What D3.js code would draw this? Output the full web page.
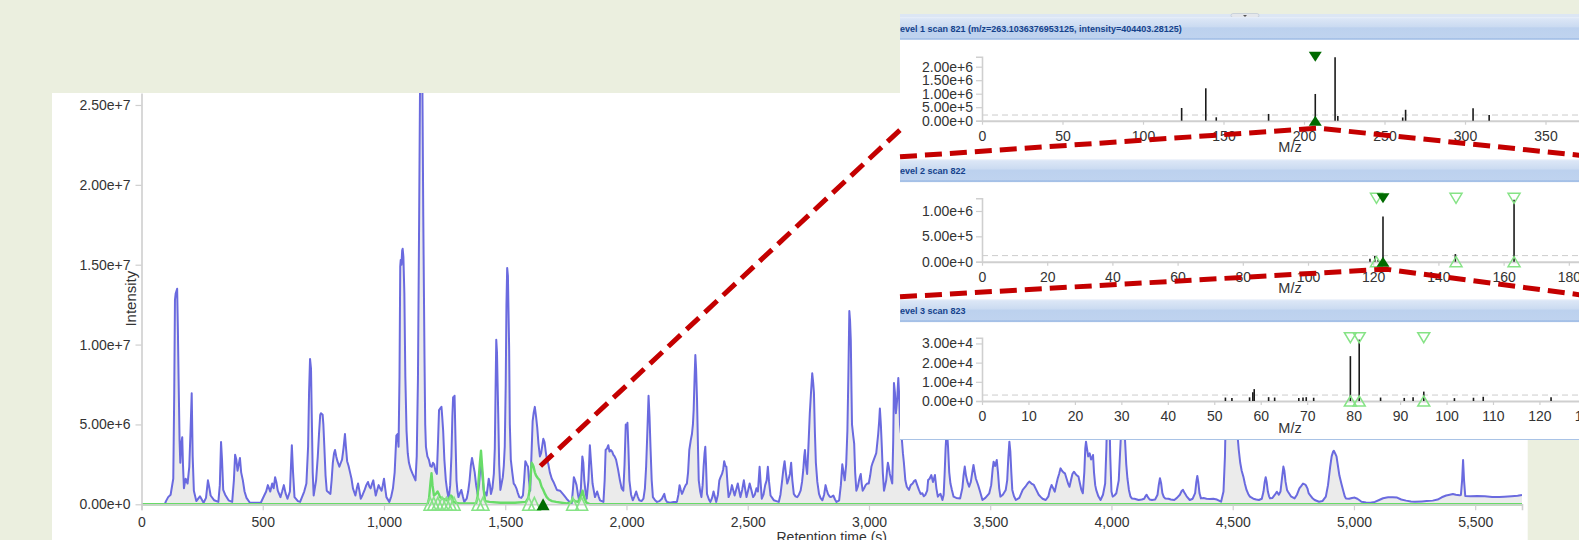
<!DOCTYPE html>
<html>
<head>
<meta charset="utf-8">
<script src="https://cdn.jsdelivr.net/npm/d3@7"></script>
<style>
  html, body { margin: 0; padding: 0; background: #ebefdf; overflow: hidden; }
  svg { display: block; font-family: "Liberation Sans", Arial, sans-serif; }
</style>
</head>
<body>
<svg id="chart" width="1579" height="540"></svg>
<script>
// ---------- Total ion chromatogram (retention time in s, intensity) ----------
const ticRT = [97,101,110,120,131,135,138,141,147,150,153,157,160,164,168,171,175,178,182,190,197,202,207,211,216,226,241,256,266,274,279,285,300,317,323,328,332,337,345,359,374,381,386,391,396,401,406,411,418,425,433,447,492,506,514,521,531,539,545,551,556,562,573,580,587,594,602,612,620,625,631,645,654,671,680,687,691,695,699,702,706,710,720,727,732,737,740,747,750,754,759,764,779,784,789,794,798,803,808,816,822,827,833,839,843,848,854,860,866,872,882,888,893,898,904,912,919,927,934,940,945,951,956,961,966,972,978,984,990,995,1000,1005,1010,1022,1030,1037,1044,1051,1056,1060,1064,1067,1069,1072,1075,1077,1080,1084,1088,1093,1098,1103,1110,1118,1124,1130,1135,1140,1145,1149,1153,1158,1162,1167,1170,1173,1179,1185,1191,1197,1202,1207,1212,1218,1223,1227,1232,1237,1240,1244,1249,1255,1261,1267,1273,1278,1282,1285,1288,1291,1295,1299,1303,1307,1313,1319,1325,1331,1341,1347,1353,1358,1363,1368,1374,1380,1386,1392,1396,1401,1406,1411,1417,1423,1428,1432,1437,1441,1447,1453,1457,1460,1463,1466,1471,1475,1480,1485,1490,1494,1498,1502,1505,1508,1511,1516,1519,1523,1529,1535,1540,1546,1552,1558,1566,1573,1578,1583,1589,1594,1598,1603,1608,1613,1617,1622,1627,1632,1637,1643,1648,1652,1657,1662,1667,1672,1678,1684,1692,1699,1713,1726,1740,1753,1765,1774,1779,1783,1788,1794,1800,1805,1812,1818,1822,1826,1831,1836,1843,1849,1854,1860,1870,1879,1885,1891,1905,1910,1914,1920,1925,1930,1935,1941,1946,1951,1957,1965,1973,1980,1987,1992,1997,2001,2004,2008,2012,2019,2026,2033,2040,2046,2053,2062,2070,2076,2081,2086,2091,2095,2099,2104,2109,2118,2126,2136,2146,2151,2156,2161,2167,2180,2194,2208,2214,2219,2224,2229,2233,2238,2244,2249,2254,2259,2265,2270,2274,2277,2281,2284,2287,2291,2295,2298,2304,2309,2314,2318,2322,2325,2328,2332,2340,2346,2353,2359,2364,2370,2377,2383,2388,2394,2399,2403,2408,2412,2417,2421,2428,2435,2440,2446,2452,2459,2464,2470,2477,2484,2489,2495,2502,2508,2515,2522,2529,2536,2542,2549,2553,2558,2565,2572,2578,2583,2588,2594,2601,2608,2618,2628,2635,2642,2647,2652,2657,2663,2669,2674,2679,2684,2690,2697,2704,2711,2718,2724,2729,2733,2736,2740,2745,2750,2756,2761,2766,2770,2773,2777,2781,2787,2794,2800,2808,2815,2821,2826,2831,2837,2842,2848,2853,2860,2866,2872,2877,2884,2890,2895,2900,2906,2911,2915,2919,2922,2925,2928,2930,2935,2939,2943,2948,2954,2959,2962,2966,2970,2974,2980,2986,2993,2999,3005,3010,3015,3020,3025,3030,3034,3038,3042,3045,3049,3053,3057,3062,3067,3071,3075,3078,3082,3086,3091,3096,3100,3103,3107,3111,3116,3121,3124,3128,3131,3135,3140,3144,3150,3156,3165,3172,3180,3186,3192,3199,3206,3213,3220,3226,3233,3240,3244,3250,3257,3264,3272,3278,3284,3290,3295,3303,3308,3312,3316,3321,3326,3331,3336,3342,3349,3360,3376,3385,3390,3395,3400,3406,3413,3420,3426,3431,3436,3441,3450,3458,3468,3480,3496,3504,3510,3514,3520,3527,3532,3537,3542,3552,3564,3570,3575,3579,3583,3587,3591,3598,3606,3620,3634,3645,3654,3661,3670,3680,3690,3700,3707,3716,3729,3740,3746,3753,3760,3766,3772,3778,3784,3790,3796,3802,3808,3815,3821,3827,3833,3839,3845,3852,3858,3864,3870,3876,3882,3888,3892,3895,3899,3904,3910,3916,3920,3924,3928,3933,3937,3946,3955,3965,3974,3979,3983,3987,3991,3995,4000,4005,4012,4020,4030,4038,4043,4047,4051,4056,4061,4066,4072,4078,4084,4095,4112,4125,4135,4140,4145,4150,4158,4167,4180,4190,4195,4200,4205,4210,4216,4222,4235,4245,4259,4270,4282,4290,4295,4300,4310,4323,4335,4345,4350,4354,4358,4363,4369,4380,4392,4406,4420,4435,4452,4462,4468,4472,4478,4484,4490,4496,4502,4508,4514,4520,4525,4531,4537,4544,4550,4557,4564,4571,4585,4597,4608,4620,4627,4632,4636,4640,4645,4650,4654,4664,4674,4682,4690,4697,4703,4709,4713,4718,4724,4728,4740,4755,4765,4775,4783,4790,4797,4801,4808,4813,4819,4828,4838,4856,4870,4884,4893,4902,4908,4914,4917,4922,4928,4933,4940,4948,4955,4962,4967,4980,4992,5003,5014,5023,5031,5050,5068,5086,5104,5120,5135,5141,5160,5178,5195,5215,5235,5251,5280,5300,5325,5345,5362,5380,5395,5408,5420,5436,5441,5446,5450,5454,5459,5480,5509,5540,5570,5600,5620,5650,5675,5693];
const ticIntensity = [0.05,0.2,0.45,0.6,1.6,7.0,12.8,13.2,13.5,11.0,7.8,4.0,2.6,3.8,4.2,2.5,1.0,1.3,1.6,1.3,2.35,4.5,6.95,3.0,0.85,0.2,0.5,0.1,0.4,1.5,1.1,0.55,0.25,0.15,1.2,3.9,2.8,0.9,0.6,0.25,0.15,1.5,3.1,2.8,2.1,2.5,2.9,2.0,1.5,0.8,0.4,0.1,0.1,0.55,0.8,1.2,0.8,1.3,1.0,1.7,1.4,0.85,0.45,0.8,1.2,0.7,0.35,0.8,3.7,2.0,0.45,0.2,0.15,0.8,1.3,3.6,7.0,9.1,8.5,5.7,2.0,0.55,1.5,3.0,4.4,5.6,5.7,5.6,5.0,3.6,1.8,0.85,0.65,1.5,2.6,3.2,3.4,3.0,2.7,2.35,2.6,2.8,3.5,4.4,3.6,2.7,2.4,2.0,1.6,1.0,0.55,1.0,1.3,0.9,0.35,0.6,0.85,1.2,1.4,1.1,1.0,1.3,1.5,1.0,0.55,0.9,1.2,1.0,0.85,1.2,1.6,1.0,0.45,0.15,0.5,1.0,2.0,4.3,4.4,3.6,8.0,14.9,15.3,15.0,15.9,16.0,15.5,13.2,8.0,4.6,3.2,2.6,2.2,1.9,1.7,1.5,3.0,7.8,18.0,27.0,28.0,27.0,18.0,9.2,5.0,3.6,3.0,2.8,2.4,2.35,2.6,2.5,2.1,1.9,4.0,5.9,6.0,6.1,5.5,4.6,2.8,1.5,0.8,0.35,1.2,3.0,5.5,6.7,6.7,6.8,4.0,1.5,0.8,0.45,0.7,0.9,0.5,0.15,0.35,0.8,1.5,2.4,2.9,2.5,2.0,1.2,0.65,1.2,2.0,2.6,1.8,0.9,0.7,0.55,1.1,1.6,1.2,0.65,1.0,1.9,3.5,7.0,10.3,9.5,5.7,2.5,0.9,1.3,1.7,2.4,3.6,7.5,12.5,14.8,14.3,9.9,5.0,2.8,2.0,1.3,1.2,1.0,0.7,0.45,0.4,0.55,1.5,2.7,2.5,2.35,1.5,0.85,3.0,5.2,5.7,6.1,5.5,4.8,3.8,3.0,3.2,3.6,4.1,3.9,3.3,2.8,2.5,2.0,1.6,1.4,0.9,0.85,0.6,0.35,0.15,0.05,0.9,1.7,1.5,1.2,0.6,0.25,1.0,3.0,2.6,1.5,0.8,0.35,1.5,3.7,2.6,1.3,0.45,0.8,0.5,0.25,0.15,1.5,3.4,3.5,3.7,3.3,3.4,3.3,3.1,3.0,2.8,2.2,1.5,1.0,0.85,2.5,5.0,4.8,5.1,3.5,1.5,0.6,0.25,0.5,0.8,0.5,0.25,0.2,0.35,1.0,2.35,4.5,6.8,5.5,3.6,1.5,0.45,0.25,0.15,0.2,0.35,0.5,0.65,0.3,0.15,0.1,0.15,0.15,0.6,1.2,0.9,0.65,0.8,1.0,1.2,1.3,2.0,3.4,4.0,4.4,5.0,5.9,8.0,9.35,8.5,6.5,3.5,1.5,0.8,0.45,1.2,2.35,3.2,3.6,2.5,0.65,0.3,0.15,0.4,0.8,0.5,0.15,0.6,1.5,1.7,1.9,2.2,2.7,2.4,2.35,1.2,0.45,0.7,1.2,0.9,0.55,0.9,1.3,0.9,0.45,0.9,1.5,1.0,0.45,0.9,1.3,0.9,0.45,0.6,1.0,0.8,2.35,1.4,0.35,0.6,1.2,1.5,2.35,1.4,0.55,0.4,0.25,0.2,0.15,0.6,1.5,2.2,2.7,2.0,1.3,1.6,1.9,2.6,1.5,0.65,0.5,0.45,0.6,0.85,1.4,2.15,3.0,3.4,2.5,1.9,3.5,5.7,7.0,8.2,7.6,7.0,4.5,2.6,1.4,0.65,0.4,0.25,0.6,1.2,0.9,0.65,0.5,0.45,0.5,0.55,0.3,0.15,0.2,0.25,1.2,2.5,2.0,1.5,2.5,4.6,8.0,12.1,11.5,10.3,7.0,5.0,4.3,3.8,2.0,0.85,1.1,1.5,1.7,1.9,1.3,0.85,1.0,1.2,1.3,1.3,1.8,2.35,2.6,2.8,3.0,3.2,3.8,4.4,5.2,6.0,5.0,3.6,2.0,0.85,1.2,1.5,2.2,2.6,2.3,1.9,1.6,1.3,4.0,7.6,7.0,5.7,6.5,7.9,7.0,5.0,4.5,4.2,3.2,2.6,1.5,1.1,0.9,1.2,1.3,1.45,1.52,1.2,0.9,0.65,0.69,0.5,0.6,0.85,1.52,1.6,1.83,1.4,1.83,1.0,0.48,0.6,0.65,0.27,0.6,1.9,3.5,4.8,3.6,2.0,1.3,0.9,0.48,0.4,0.37,1.0,1.8,2.36,1.8,1.4,1.1,1.4,2.0,2.46,2.0,1.6,1.21,0.8,0.27,0.4,0.69,1.2,2.2,2.67,2.4,2.77,2.0,1.0,0.48,0.6,0.9,1.5,3.0,3.92,3.3,2.0,0.9,0.5,0.27,0.4,0.9,1.1,1.3,1.42,1.3,1.21,0.9,0.6,0.48,0.35,0.27,0.5,0.9,1.21,1.0,0.79,1.2,1.6,1.9,2.25,2.1,2.0,1.94,1.6,1.3,1.1,1.5,1.9,2.04,1.9,1.8,1.73,1.3,0.9,0.69,2.0,3.5,3.92,3.5,3.0,3.19,2.8,2.9,3.09,2.0,1.2,0.9,0.5,0.27,0.6,1.3,3.5,6.0,7.5,6.0,3.0,0.8,0.48,0.55,0.69,1.5,4.0,7.0,8.8,7.0,4.0,2.5,1.6,0.9,0.5,0.37,0.35,0.27,0.3,0.35,0.5,0.6,0.45,0.3,0.27,0.3,0.6,1.2,1.63,1.3,0.7,0.45,0.37,0.35,0.3,0.27,0.4,0.6,0.85,0.9,0.75,0.5,0.27,0.35,0.7,1.4,1.77,1.4,0.7,0.37,0.4,0.35,0.33,0.35,0.3,0.16,0.8,3.0,6.0,9.0,11.0,11.5,10.8,9.0,7.2,5.5,4.3,3.4,2.6,2.1,1.73,1.3,0.9,0.65,0.48,0.35,0.3,0.27,0.35,0.8,1.4,1.69,1.4,0.8,0.5,0.37,0.4,0.6,0.79,0.6,0.8,1.6,2.36,2.1,1.4,0.9,0.79,0.5,0.37,0.6,1.0,1.15,1.3,1.25,1.21,1.0,0.7,0.58,0.4,0.27,0.16,0.2,0.48,1.2,2.36,3.0,3.3,3.35,3.2,3.0,2.5,1.8,1.3,0.9,0.5,0.37,0.35,0.4,0.42,0.35,0.25,0.16,0.12,0.1,0.15,0.27,0.38,0.43,0.44,0.44,0.42,0.3,0.23,0.18,0.16,0.18,0.2,0.23,0.3,0.44,0.55,0.6,0.64,0.6,0.56,0.58,1.5,2.77,1.5,0.52,0.5,0.52,0.5,0.46,0.45,0.47,0.5,0.53,0.58]
  .map(v => v * 1e6);

// ---------- Extracted ion chromatogram of the selected precursor ----------
const xicRT = [0,1180,1186,1192,1196,1200,1206,1214,1221,1226,1231,1237,1243,1250,1258,1264,1270,1276,1280,1286,1294,1310,1380,1386,1390,1395,1400,1404,1408,1412,1417,1435,1480,1540,1585,1595,1600,1605,1609,1613,1617,1622,1627,1634,1642,1650,1657,1664,1671,1680,1693,1710,1753,1770,1780,1788,1800,1812,1819,1826,1835,1850,5693];
const xicIntensity = [0,0,0.4,1.4,1.94,1.2,0.55,0.65,0.8,0.65,0.45,0.4,0.35,0.3,0.25,0.3,0.4,0.55,0.5,0.15,0.1,0.05,0.05,0.5,1.5,2.5,3.35,2.5,1.7,0.8,0.2,0.15,0.1,0.1,0.15,0.4,0.85,1.8,2.6,2.5,2.35,2.0,1.8,1.65,1.5,1.1,0.9,0.65,0.45,0.3,0.2,0.15,0.05,0.1,0.3,0.2,0.15,0.5,0.85,0.4,0.1,0,0]
  .map(v => v * 1e6);

// MS2 scans triggered on the precursor, and the scan shown in the spectra
const ms2ScanRT = [1190, 1205, 1222, 1240, 1257, 1273, 1289, 1388, 1408, 1597, 1620, 1778, 1815];
const selectedScanRT = 1656;
const calloutRT = 1645, calloutIntensity = 2.4e6;

const rtTicks = [0, 500, 1000, 1500, 2000, 2500, 3000, 3500, 4000, 4500, 5000, 5500];
const intensityTicks = [0, 5e6, 1e7, 1.5e7, 2e7, 2.5e7];

// ---------- Spectra (MS1 -> MS2 -> MS3) ----------
const spec1Mz  = [124, 139, 145.5, 178, 207, 219.3, 221, 261.3, 263.1, 305, 315];
const spec1Int = [4.7e5, 1.2e6, 1.26e5, 2.5e5, 9.9e5, 2.35e6, 1.7e5, 1.2e5, 4.04e5, 4.6e5, 2.1e5];
const spec1Selected = [207];
const spec1Fragmented = [];
const spec1Noise = 2.1e5;
const spec1Ticks = [0, 5e5, 1e6, 1.5e6, 2e6];
const spec1MzTicks = [0, 50, 100, 150, 200, 250, 300, 350, 400];

const spec2Mz  = [119, 120.5, 121.5, 123, 145.2, 163.2];
const spec2Int = [6e4, 1.1e5, 4e4, 8.9e5, 1.5e5, 1.22e6];
const spec2Selected = [123];
const spec2Fragmented = [121, 145.4, 163.2];
const spec2Noise = 1.2e5;
const spec2Ticks = [0, 5e5, 1e6];
const spec2MzTicks = [0, 20, 40, 60, 80, 100, 120, 140, 160, 180, 200];

const spec3Mz  = [52.4, 53.8, 57.6, 58.3, 58.6, 61.7, 63.0, 68.2, 69.1, 69.8, 71.4, 79.3, 81.2, 85.8, 90.9, 92.8, 95.1, 101.7, 105.8, 107.9, 122.5];
const spec3Int = [1.8e3, 1.6e3, 1.9e3, 4.5e3, 6.2e3, 2.0e3, 1.8e3, 1.6e3, 1.8e3, 2.0e3, 1.7e3, 2.34e4, 3.2e4, 1.8e3, 1.6e3, 1.9e3, 4.9e3, 1.5e3, 1.7e3, 2.2e3, 1.9e3];
const spec3Selected = [];
const spec3Fragmented = [79.3, 81.2, 95.1];
const spec3Noise = 3.1e3;
const spec3Ticks = [0, 1e4, 2e4, 3e4];
const spec3MzTicks = [0, 10, 20, 30, 40, 50, 60, 70, 80, 90, 100, 110, 120, 130, 140];

const spectraTitles = [
  "Level 1 scan 821 (m/z=263.1036376953125, intensity=404403.28125)",
  "Level 2 scan 822",
  "Level 3 scan 823"
];

// ---------- drawing ----------
const svg = d3.select("#chart");
const defs = svg.append("defs");
const sci = d3.format(".2e");

const BLUE = "#6a6adf", GREEN = "#68dc68", LIGHTGREEN = "#86e386", DARKGREEN = "#006b00";
const AXIS = "#cfcfcf", TEXT = "#333";

// white card holding the chromatogram
svg.append("rect").attr("x", 52).attr("y", 93).attr("width", 1475.7).attr("height", 447).attr("fill", "#fff");

const x = d3.scaleLinear().domain([0, 5693]).range([141.5, 1522]);
const y = d3.scaleLinear().domain([0, 25.75e6]).range([504.3, 93]);

defs.append("clipPath").attr("id", "plotClip")
  .append("rect").attr("x", x.range()[0]).attr("y", y.range()[1])
  .attr("width", x.range()[1] - x.range()[0]).attr("height", y.range()[0] - y.range()[1] + 2);

function styleAxis(g, fontSize) {
  g.select(".domain").attr("stroke", AXIS).attr("stroke-width", 1.6);
  g.selectAll(".tick line").attr("stroke", AXIS).attr("stroke-width", 1.2);
  g.selectAll(".tick text").attr("fill", TEXT).style("font-size", fontSize + "px")
    .style("font-family", '"Liberation Sans", Arial, sans-serif');
}

const plot = svg.append("g").attr("clip-path", "url(#plotClip)");

const ticData = ticRT.map((t, i) => [t, ticIntensity[i]]);
const xicData = xicRT.map((t, i) => [t, xicIntensity[i]]);

plot.append("path").datum(ticData)
  .attr("fill", "#ebebeb").attr("stroke", "none")
  .attr("d", d3.area().x(d => x(d[0])).y0(y(0)).y1(d => y(d[1])));
plot.append("path").datum(ticData)
  .attr("fill", "none").attr("stroke", BLUE).attr("stroke-width", 2).attr("stroke-linejoin", "round")
  .attr("d", d3.line().x(d => x(d[0])).y(d => y(d[1])));
plot.append("path").datum(xicData)
  .attr("fill", "none").attr("stroke", GREEN).attr("stroke-width", 2.4).attr("stroke-linejoin", "round")
  .attr("d", d3.line().x(d => x(d[0])).y(d => y(d[1])));

// axes
const gy = svg.append("g").attr("transform", `translate(${x.range()[0]},0)`)
  .call(d3.axisLeft(y).tickValues(intensityTicks).tickFormat(sci).tickSize(6).tickSizeOuter(0).tickPadding(5));
styleAxis(gy, 14);
const gx = svg.append("g").attr("transform", `translate(0,${y(0)})`)
  .call(d3.axisBottom(x).tickValues(rtTicks).tickFormat(d3.format(",")).tickSize(6).tickSizeOuter(6).tickPadding(7));
styleAxis(gx, 14);

svg.append("text").attr("transform", `translate(135.5,${(y.range()[0] + y.range()[1]) / 2}) rotate(-90)`)
  .attr("text-anchor", "middle").attr("fill", TEXT).style("font-size", "15px").text("Intensity");
svg.append("text").attr("x", (x.range()[0] + x.range()[1]) / 2).attr("y", 542)
  .attr("text-anchor", "middle").attr("fill", TEXT).style("font-size", "14px").text("Retention time (s)");

// scan markers
function tri(w, h, up) {
  return up ? `M0,${-h / 2}L${w / 2},${h / 2}L${-w / 2},${h / 2}Z`
            : `M0,${h / 2}L${w / 2},${-h / 2}L${-w / 2},${-h / 2}Z`;
}
svg.append("g").selectAll("path").data(ms2ScanRT).join("path")
  .attr("transform", d => `translate(${x(d)},${y(0) - 0.5})`)
  .attr("d", tri(12, 13, true)).attr("fill", "none").attr("stroke", LIGHTGREEN).attr("stroke-width", 1.6);
svg.append("path").attr("transform", `translate(${x(selectedScanRT)},${y(0)})`)
  .attr("d", tri(13, 12, true)).attr("fill", DARKGREEN);

// ---------- spectra stack ----------
const INSET_X = 900, INSET_R = 1579;
svg.append("rect").attr("x", INSET_X).attr("y", 14).attr("width", INSET_R - INSET_X).attr("height", 426).attr("fill", "#fff");
svg.append("rect").attr("x", INSET_X).attr("y", 14).attr("width", INSET_R - INSET_X).attr("height", 3.2).attr("fill", "#dce6f4");
svg.append("line").attr("x1", INSET_X).attr("x2", INSET_R).attr("y1", 439.5).attr("y2", 439.5)
  .attr("stroke", "#a9c3e6").attr("stroke-width", 1);

const grad = defs.append("linearGradient").attr("id", "hdr").attr("x1", 0).attr("x2", 0).attr("y1", 0).attr("y2", 1);
[[0, "#e9eff9"], [0.08, "#dbe6f6"], [0.42, "#cbdbf1"], [0.48, "#bcd1ee"], [0.9, "#bfd3ef"], [0.92, "#a8c3e8"], [1, "#a3bfe6"]]
  .forEach(([o, c]) => grad.append("stop").attr("offset", o).attr("stop-color", c));

defs.append("clipPath").attr("id", "insetClip")
  .append("rect").attr("x", INSET_X).attr("y", 0).attr("width", INSET_R - INSET_X).attr("height", 540);

// small collapse handle on the top edge
svg.append("rect").attr("x", 1231).attr("y", 13.5).attr("width", 28).attr("height", 4).attr("rx", 2)
  .attr("fill", "#e4e7ec").attr("stroke", "#b8c2d0").attr("stroke-width", 0.6);
svg.append("path").attr("d", "M1243,15L1247,15L1245,17Z").attr("fill", "#555");

const spectra = [
  { mz: spec1Mz, inten: spec1Int, sel: spec1Selected, frag: spec1Fragmented, noise: spec1Noise,
    yTicks: spec1Ticks, mzTicks: spec1MzTicks, yMax: 2.37e6, mzMax: 414.9, hdr: 17, top: 56.7, zero: 120.7 },
  { mz: spec2Mz, inten: spec2Int, sel: spec2Selected, frag: spec2Fragmented, noise: spec2Noise,
    yTicks: spec2Ticks, mzTicks: spec2MzTicks, yMax: 1.25e6, mzMax: 204.9, hdr: 159.3, top: 198.3, zero: 261.7 },
  { mz: spec3Mz, inten: spec3Int, sel: spec3Selected, frag: spec3Fragmented, noise: spec3Noise,
    yTicks: spec3Ticks, mzTicks: spec3MzTicks, yMax: 3.3e4, mzMax: 143.8, hdr: 299.3, top: 337.7, zero: 401 }
];

const inset = svg.append("g").attr("clip-path", "url(#insetClip)");

spectra.forEach((s, i) => {
  const g = inset.append("g");
  g.append("rect").attr("x", INSET_X).attr("y", s.hdr).attr("width", INSET_R - INSET_X).attr("height", 22.8)
    .attr("fill", "url(#hdr)");
  g.append("text").attr("x", INSET_X - 5.5).attr("y", s.hdr + 14.6)
    .attr("fill", "#15428b").style("font-size", "9px").style("font-weight", "bold").text(spectraTitles[i]);

  const sx = d3.scaleLinear().domain([0, s.mzMax]).range([982, 1650]);
  const sy = d3.scaleLinear().domain([0, s.yMax]).range([s.zero, s.top]);
  s.sx = sx; s.sy = sy;

  g.append("line").attr("x1", sx(0)).attr("x2", 1650).attr("y1", sy(s.noise)).attr("y2", sy(s.noise))
    .attr("stroke", "#cccccc").attr("stroke-width", 1).attr("stroke-dasharray", "6,4");

  const ay = g.append("g").attr("transform", `translate(${sx(0)},0)`)
    .call(d3.axisLeft(sy).tickValues(s.yTicks).tickFormat(sci).tickSize(6).tickSizeOuter(6));
  styleAxis(ay, 14);
  const ax = g.append("g").attr("transform", `translate(0,${s.zero})`)
    .call(d3.axisBottom(sx).tickValues(s.mzTicks).tickSize(4).tickSizeOuter(0).tickPadding(6.5));
  styleAxis(ax, 14);
  ax.select(".domain").attr("stroke-width", 2);
  g.append("text").attr("x", 1290).attr("y", s.zero + 31.5).attr("text-anchor", "middle")
    .attr("fill", TEXT).style("font-size", "14.5px").text("M/z");

  g.append("g").selectAll("line").data(s.mz).join("line")
    .attr("x1", d => sx(d)).attr("x2", d => sx(d))
    .attr("y1", sy(0)).attr("y2", (d, k) => sy(s.inten[k]))
    .attr("stroke", "#1b1b1b").attr("stroke-width", 1.6);

  s.frag.forEach(m => {
    g.append("path").attr("transform", `translate(${sx(m)},${s.top})`).attr("d", tri(12, 10, false))
      .attr("fill", "none").attr("stroke", LIGHTGREEN).attr("stroke-width", 1.5);
    g.append("path").attr("transform", `translate(${sx(m)},${s.zero})`).attr("d", tri(12, 10, true))
      .attr("fill", "none").attr("stroke", LIGHTGREEN).attr("stroke-width", 1.5);
  });
  s.sel.forEach(m => {
    g.append("path").attr("transform", `translate(${sx(m)},${s.top})`).attr("d", tri(13, 10, false)).attr("fill", DARKGREEN);
    g.append("path").attr("transform", `translate(${sx(m)},${s.zero})`).attr("d", tri(13, 10, true)).attr("fill", DARKGREEN);
  });
});

// ---------- zoom callouts ----------
const callout = svg.append("g").attr("fill", "none").attr("stroke", "#c40000")
  .attr("stroke-width", 5).attr("stroke-dasharray", "17,8");
callout.append("path").attr("d", d3.line()([[x(calloutRT), y(calloutIntensity)], [INSET_X, 130]]));
[0, 1].forEach(i => {
  const s = spectra[i];
  const px = s.sx(s.sel[0]) + 3, apex = s.zero + 7.5;
  const edge = spectra[i + 1].hdr - 2.5;
  callout.append("path").attr("d", d3.line()([[INSET_X, edge], [px, apex], [INSET_R + 20, edge + 0.5]]));
});
</script>
</body>
</html>
